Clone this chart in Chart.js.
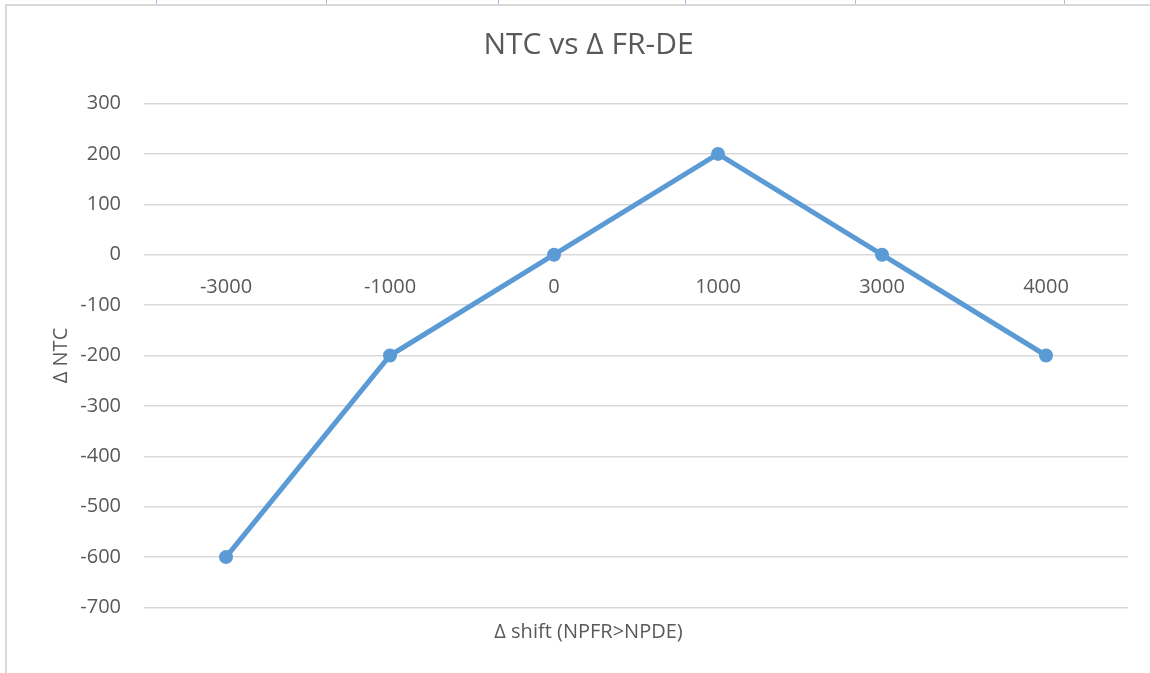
<!DOCTYPE html>
<html>
<head>
<meta charset="utf-8">
<script src="https://cdn.jsdelivr.net/npm/chart.js@4.4.1/dist/chart.umd.min.js"></script>
<style>
  html, body { margin: 0; padding: 0; background: #fff; }
  body { width: 1150px; height: 673px; position: relative; overflow: hidden; }
  #frame {
    position: absolute; left: 5px; top: 4px; width: 1145px; height: 669px;
    border-left: 2px solid #d9d9d9; border-top: 2px solid #d9d9d9;
  }
  #wrap { position: absolute; left: 0; top: 0; width: 1143px; height: 667px; }
  .tick { position: absolute; top: 0; width: 1px; height: 4px; background: #9dc3e6; }
</style>
</head>
<body>
<div class="tick" style="left:156px"></div>
<div class="tick" style="left:326px"></div>
<div class="tick" style="left:498px"></div>
<div class="tick" style="left:685px"></div>
<div class="tick" style="left:855px"></div>
<div class="tick" style="left:1064px"></div>
<div id="frame">
  <div id="wrap"><canvas id="ntc-chart"></canvas></div>
</div>
<script>
const shiftLabels = ['-3000', '-1000', '0', '1000', '3000', '4000'];
const ntcValues = [-600, -200, 0, 200, 0, -200];
const yMin = -700;
const yMax = 300;
const yStep = 100;

const textColor = '#595959';
const lineColor = '#5b9bd5';
const gridColor = '#d9d9d9';
const fontFamily = "'Open Sans', 'DejaVu Sans', sans-serif";

const ctx = document.getElementById('ntc-chart');

new Chart(ctx, {
  type: 'line',
  data: {
    labels: shiftLabels,
    datasets: [
      {
        label: 'Δ NTC',
        data: ntcValues,
        borderColor: lineColor,
        backgroundColor: lineColor,
        borderWidth: 5,
        pointRadius: 7,
        pointHoverRadius: 7,
        pointBorderWidth: 0,
        tension: 0,
      },
    ],
  },
  options: {
    responsive: true,
    maintainAspectRatio: false,
    animation: false,
    layout: { padding: { left: 42, right: 22, top: 0, bottom: 0 } },
    plugins: {
      legend: { display: false },
      tooltip: { enabled: false },
      title: {
        display: true,
        text: 'NTC vs Δ FR-DE',
        color: textColor,
        font: { family: fontFamily, size: 30, weight: 'normal' },
        padding: { top: 21.5, bottom: 40 },
      },
      subtitle: {
        display: true,
        position: 'bottom',
        text: 'Δ shift (NPFR>NPDE)',
        color: textColor,
        font: { family: fontFamily, size: 20, weight: 'normal' },
        padding: { top: 12.5, bottom: 29 },
      },
    },
    scales: {
      x: {
        type: 'category',
        position: { y: 0 },
        offset: true,
        grid: { display: false, drawTicks: false },
        border: { display: false },
        ticks: {
          color: textColor,
          font: { family: fontFamily, size: 20 },
          padding: 21,
          maxRotation: 0,
        },
      },
      y: {
        min: yMin,
        max: yMax,
        afterFit: (scale) => { scale.width = 95; },
        grid: { color: gridColor, lineWidth: 1.5, drawTicks: false },
        border: { display: false },
        ticks: {
          stepSize: yStep,
          color: textColor,
          font: { family: fontFamily, size: 20 },
          padding: 23,
        },
        title: {
          display: true,
          text: 'Δ NTC',
          color: textColor,
          font: { family: fontFamily, size: 20 },
          padding: 0,
        },
      },
    },
  },
});
</script>
</body>
</html>
